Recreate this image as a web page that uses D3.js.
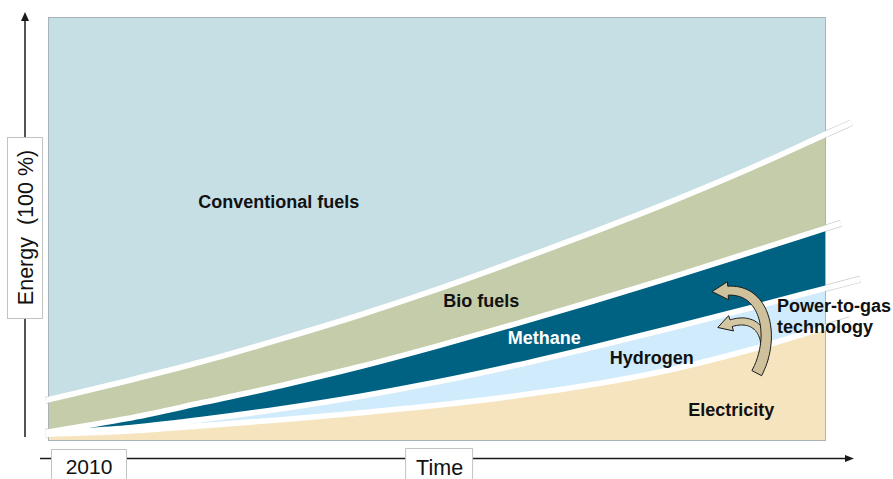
<!DOCTYPE html>
<html>
<head>
<meta charset="utf-8">
<script src="https://cdn.jsdelivr.net/npm/d3@7/dist/d3.min.js"></script>
<style>
  html, body { margin: 0; padding: 0; background: #ffffff; }
  svg { display: block; }
  text { font-family: "Liberation Sans", Arial, Helvetica, sans-serif; }
</style>
</head>
<body>
<svg id="chart" width="893" height="479"></svg>
<script>
// ---------------- data (share of energy, %) ----------------
const timeSteps   = [0, 1, 2, 3, 4, 5, 6, 7, 8, 9, 10];
const electricity = [1.4, 2.1, 3.4, 4.8, 6.4, 8.2, 10.4, 13.1, 16.6, 21.2, 26.7];
const hydrogen    = [0.3, 0.7, 1.5, 2.6, 3.9, 5.5, 7.2, 8.8, 9.8, 9.9, 9.2];
const methane     = [0.2, 2.2, 4.0, 5.5, 7.0, 8.5, 9.8, 10.9, 12.0, 13.1, 14.2];
const bioFuels    = [7.6, 8.9, 9.7, 11.0, 12.2, 13.4, 14.8, 16.3, 17.9, 19.8, 22.2];
const conventional= [90.5, 86.1, 81.4, 76.1, 70.5, 64.4, 57.8, 50.9, 43.7, 36.0, 27.7];
const seriesNames = ["Electricity", "Hydrogen", "Methane", "Bio fuels", "Conventional fuels"];
const xTickLabels = ["2010"];
const xAxisTitle  = "Time";
const yAxisTitle  = "Energy  (100 %)";
const annotation  = ["Power-to-gas", "technology"];

// ---------------- styles ----------------
const colors = ["#f5e4be", "#d0ebfb", "#006283", "#c5cca9", "#c6dfe5"];
const labelColors = ["#111", "#111", "#ffffff", "#111", "#111"];
const lineOverhang = [0.31, 0.44, 0.19, 0.33]; // white separators beyond plot (time units)

const svg = d3.select("#chart");
const W = 893, H = 479;
const plot = { left: 48, right: 826, top: 17, bottom: 441 };

const x = d3.scaleLinear().domain([0, 10]).range([plot.left, plot.right]);
const y = d3.scaleLinear().domain([0, 100]).range([440, plot.top]);

const table = timeSteps.map((t, i) => ({
  t,
  "Electricity": electricity[i],
  "Hydrogen": hydrogen[i],
  "Methane": methane[i],
  "Bio fuels": bioFuels[i],
  "Conventional fuels": conventional[i]
}));
const stacked = d3.stack().keys(seriesNames)(table);

const defs = svg.append("defs");
defs.append("clipPath").attr("id", "plotClip")
  .append("rect").attr("x", plot.left).attr("y", plot.top)
  .attr("width", plot.right - plot.left).attr("height", plot.bottom - plot.top);
const outClip = defs.append("clipPath").attr("id", "outClip");
outClip.append("rect").attr("x", plot.right).attr("y", 0).attr("width", W - plot.right).attr("height", H);
outClip.append("rect").attr("x", 0).attr("y", 0).attr("width", plot.left).attr("height", H);

// ---------------- areas ----------------
const area = d3.area()
  .x(d => x(d.data.t))
  .y0(d => y(d[0]))
  .y1(d => y(d[1]))
  .curve(d3.curveMonotoneX);

const gAreas = svg.append("g").attr("clip-path", "url(#plotClip)");
gAreas.selectAll("path.layer")
  .data(stacked)
  .join("path")
  .attr("class", "layer")
  .attr("fill", (d, i) => colors[i])
  .attr("d", area);

// plot frame
svg.append("rect")
  .attr("x", plot.left + 0.5).attr("y", plot.top + 0.5)
  .attr("width", plot.right - plot.left - 1).attr("height", plot.bottom - plot.top - 1)
  .attr("fill", "none").attr("stroke", "#aab4b8").attr("stroke-width", 1);

// ---------------- white separator lines ----------------
const line = d3.line().x(p => x(p[0])).y(p => y(p[1])).curve(d3.curveMonotoneX);
const boundaries = stacked.slice(0, 4).map((layer, i) => {
  const v = layer.map(d => d[1]);
  const n = v.length;
  const o = lineOverhang[i];
  const pts = [[-0.03, v[0] - (v[1] - v[0]) * 0.03]];
  timeSteps.forEach((t, j) => pts.push([t, v[j]]));
  pts.push([10 + o, v[n - 1] + (v[n - 1] - v[n - 2]) * o]);
  return pts;
});
const gLines = svg.append("g");
gLines.selectAll("path.outline")
  .data(boundaries).join("path")
  .attr("class", "outline")
  .attr("clip-path", "url(#outClip)")
  .attr("fill", "none").attr("stroke", "#c9cdcf").attr("stroke-width", 7)
  .attr("d", line);
gLines.selectAll("path.sep")
  .data(boundaries).join("path")
  .attr("class", "sep")
  .attr("fill", "none").attr("stroke", "#ffffff").attr("stroke-width", 5.6)
  .attr("d", line);

// ---------------- series labels ----------------
const labelPos = [
  { t: 8.23, p: 5.6 },
  { t: 7.22, p: 18.0 },
  { t: 5.91, p: 22.7 },
  { t: 5.08, p: 31.4 },
  { t: 1.93, p: 54.8 }
];
svg.append("g").selectAll("text.series")
  .data(seriesNames).join("text")
  .attr("class", "series")
  .attr("x", (d, i) => x(labelPos[i].t))
  .attr("y", (d, i) => y(labelPos[i].p))
  .attr("fill", (d, i) => labelColors[i])
  .attr("font-size", 18).attr("font-weight", "bold")
  .text(d => d);

// ---------------- power-to-gas arrows ----------------
function bez(P, s) {
  const u = 1 - s;
  return [
    u*u*u*P[0][0] + 3*u*u*s*P[1][0] + 3*u*s*s*P[2][0] + s*s*s*P[3][0],
    u*u*u*P[0][1] + 3*u*u*s*P[1][1] + 3*u*s*s*P[2][1] + s*s*s*P[3][1]
  ];
}
function bezD(P, s) {
  const u = 1 - s;
  return [
    3*u*u*(P[1][0]-P[0][0]) + 6*u*s*(P[2][0]-P[1][0]) + 3*s*s*(P[3][0]-P[2][0]),
    3*u*u*(P[1][1]-P[0][1]) + 6*u*s*(P[2][1]-P[1][1]) + 3*s*s*(P[3][1]-P[2][1])
  ];
}
function blockArrow(P, w0, w1, headLen, headHalf) {
  const N = 40, L = [], R = [];
  for (let k = 0; k <= N; k++) {
    const s = k / N, p = bez(P, s), d = bezD(P, s);
    const len = Math.hypot(d[0], d[1]);
    const nx = -d[1] / len, ny = d[0] / len;
    const w = (w0 + (w1 - w0) * s) / 2;
    L.push([p[0] + nx * w, p[1] + ny * w]);
    R.push([p[0] - nx * w, p[1] - ny * w]);
  }
  const end = bez(P, 1), d = bezD(P, 1), len = Math.hypot(d[0], d[1]);
  const tx = d[0] / len, ty = d[1] / len, nx = -ty, ny = tx;
  const pts = L.concat([
    [end[0] + nx * headHalf, end[1] + ny * headHalf],
    [end[0] + tx * headLen, end[1] + ty * headLen],
    [end[0] - nx * headHalf, end[1] - ny * headHalf]
  ]).concat(R.reverse());
  return "M" + pts.map(p => p[0].toFixed(1) + "," + p[1].toFixed(1)).join("L") + "Z";
}
const arrowLower = [[x(9.20), y(18.9)], [x(9.27), y(26.3)], [x(9.05), y(29.2)], [x(8.78), y(27.6)]];
const arrowUpper = [[x(9.11), y(15.8)], [x(9.36), y(24.5)], [x(9.22), y(35.8)], [x(8.74), y(35.3)]];
const gArrows = svg.append("g");
gArrows.append("path").attr("d", blockArrow(arrowLower, 7.5, 7, 14, 8))
  .attr("fill", "#d3c6a2").attr("stroke", "#1a1a1a").attr("stroke-width", 1).attr("stroke-linejoin", "round");
gArrows.append("path").attr("d", blockArrow(arrowUpper, 11, 9, 16, 9))
  .attr("fill", "#cfc19c").attr("stroke", "#1a1a1a").attr("stroke-width", 1).attr("stroke-linejoin", "round");

svg.append("text")
  .attr("x", x(9.37)).attr("y", y(30.3))
  .attr("font-size", 18).attr("font-weight", "bold").attr("fill", "#111")
  .selectAll("tspan").data(annotation).join("tspan")
  .attr("x", x(9.37)).attr("dy", (d, i) => i === 0 ? 0 : 21.5)
  .text(d => d);

// ---------------- axes ----------------
const axisColor = "#1a1a1a";
// y axis arrow
svg.append("line").attr("x1", 25).attr("x2", 25).attr("y1", 437).attr("y2", 20)
  .attr("stroke", axisColor).attr("stroke-width", 1.5);
svg.append("path").attr("d", "M21,21L25,12L29,21Z").attr("fill", axisColor);
// x axis arrow
svg.append("line").attr("x1", 40).attr("x2", 846).attr("y1", 458.5).attr("y2", 458.5)
  .attr("stroke", axisColor).attr("stroke-width", 1.5);
svg.append("path").attr("d", "M845,455L854,458.5L845,462Z").attr("fill", axisColor);

// y axis title box
const yBox = { x: 7, y: 137, w: 35, h: 181 };
svg.append("rect").attr("x", yBox.x + 0.5).attr("y", yBox.y + 0.5).attr("width", yBox.w).attr("height", yBox.h)
  .attr("fill", "#fff").attr("stroke", "#c2c2c2");
svg.append("text")
  .attr("transform", `translate(${yBox.x + yBox.w / 2 + 8},${yBox.y + yBox.h / 2}) rotate(-90)`)
  .attr("text-anchor", "middle").attr("font-size", 21.5).attr("fill", "#111")
  .attr("xml:space", "preserve").style("white-space", "pre")
  .text(yAxisTitle);

// x tick label box (2010)
svg.append("rect").attr("x", x(0) + 3.5).attr("y", 449.5).attr("width", 75).attr("height", 35)
  .attr("fill", "#fff").attr("stroke", "#c2c2c2");
svg.append("text").attr("x", x(0) + 41).attr("y", 474).attr("text-anchor", "middle")
  .attr("font-size", 21).attr("fill", "#111").text(xTickLabels[0]);

// x axis title box
svg.append("rect").attr("x", x(4.59) + 0.5).attr("y", 448.5).attr("width", 67).attr("height", 35)
  .attr("fill", "#fff").attr("stroke", "#c2c2c2");
svg.append("text").attr("x", x(4.59) + 34.5).attr("y", 474.5).attr("text-anchor", "middle")
  .attr("font-size", 21.5).attr("fill", "#111").text(xAxisTitle);
</script>
</body>
</html>
